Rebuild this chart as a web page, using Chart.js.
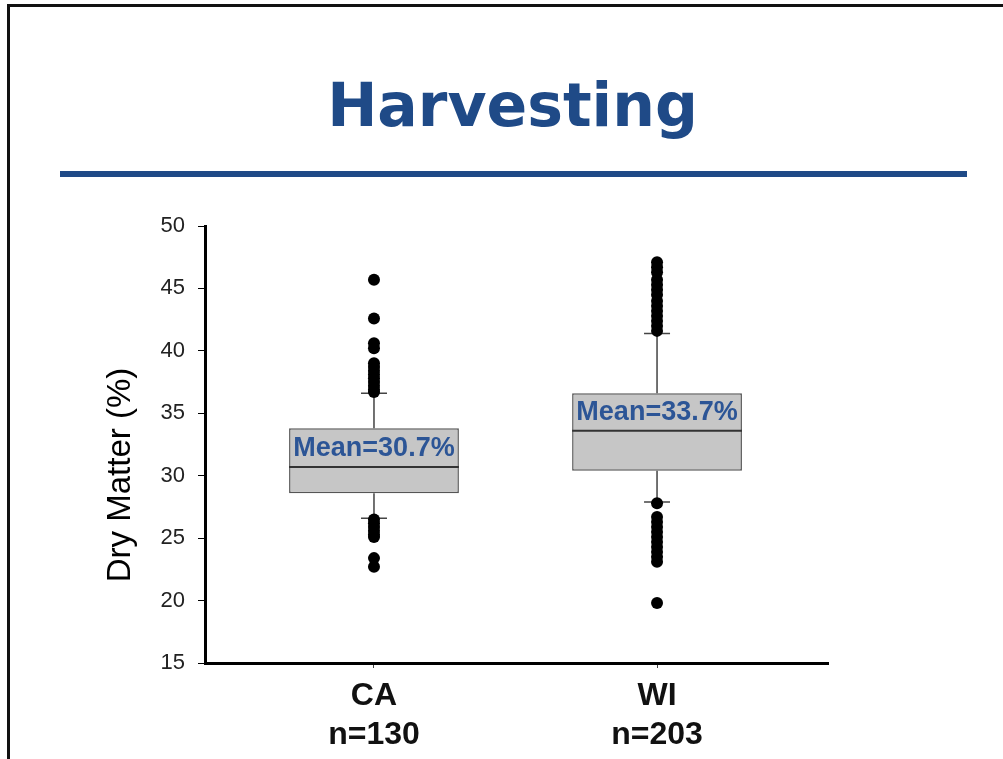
<!DOCTYPE html>
<html>
<head>
<meta charset="utf-8">
<script src="https://cdn.jsdelivr.net/npm/chart.js@4.4.0/dist/chart.umd.min.js"></script>
<style>
  html, body { margin: 0; padding: 0; background: #fff; }
  #page { position: relative; width: 1003px; height: 759px; overflow: hidden; }
  #frame { position: absolute; left: 7px; top: 4px; width: 1003px; height: 800px;
           border-left: 3px solid #111; border-top: 3px solid #111; }
  h1 { position: absolute; left: 11px; top: 70px; width: 1003px; margin: 0;
       text-align: center; font: bold 60px "DejaVu Sans"; line-height: 70px; color: #1f4a87; }
  #rule { position: absolute; left: 60px; top: 171px; width: 907px; height: 6px; background: #1f4a87; }
  #chart { position: absolute; left: 0; top: 0; }
</style>
</head>
<body>
<div id="page">
  <div id="frame"></div>
  <h1>Harvesting</h1>
  <div id="rule"></div>
  <canvas id="chart" width="1003" height="759"></canvas>
</div>
<script>
const categories = ["CA", "WI"];
const sampleSizes = [130, 203];
const q1 = [28.6, 30.4];
const medians = [30.7, 33.6];
const q3 = [33.8, 36.6];
const whiskerLow = [26.6, 27.9];
const whiskerHigh = [36.6, 41.4];
const means = [30.7, 33.7];
const outliersCA = [45.7, 42.6, 40.6, 40.2, 39.0, 38.7, 38.4, 38.1, 37.8, 37.5, 37.2, 36.9, 36.7,
                    26.5, 26.2, 25.9, 25.6, 25.3, 25.1, 23.4, 22.7];
const outliersWI = [47.1, 46.7, 46.3, 45.7, 45.3, 44.9, 44.5, 44.0, 43.6, 43.2, 42.8, 42.4, 42.0, 41.6,
                    27.8, 26.7, 26.3, 25.9, 25.5, 25.1, 24.7, 24.3, 23.9, 23.5, 23.1, 19.8];
const yMin = 15, yMax = 50, yStep = 5;
const yTitle = "Dry Matter (%)";

const outlierPoints = [
  ...outliersCA.map(v => ({ x: 1, y: v })),
  ...outliersWI.map(v => ({ x: 2, y: v }))
];

// whiskers, medians and mean labels, drawn right after the boxes
const boxExtras = {
  id: "boxExtras",
  afterDatasetDraw(chart, args) {
    if (args.index !== 0) return;
    const { ctx, scales: { x, y } } = chart;
    const bars = chart.getDatasetMeta(0).data;
    ctx.save();
    categories.forEach((c, i) => {
      const cx = x.getPixelForValue(i + 1);
      const half = bars[i].width / 2;
      const cap = 13;
      ctx.strokeStyle = "#444";
      ctx.lineWidth = 1.5;
      ctx.beginPath();
      ctx.moveTo(cx, y.getPixelForValue(q3[i]));
      ctx.lineTo(cx, y.getPixelForValue(whiskerHigh[i]));
      ctx.moveTo(cx, y.getPixelForValue(q1[i]));
      ctx.lineTo(cx, y.getPixelForValue(whiskerLow[i]));
      ctx.moveTo(cx - cap, y.getPixelForValue(whiskerHigh[i]));
      ctx.lineTo(cx + cap, y.getPixelForValue(whiskerHigh[i]));
      ctx.moveTo(cx - cap, y.getPixelForValue(whiskerLow[i]));
      ctx.lineTo(cx + cap, y.getPixelForValue(whiskerLow[i]));
      ctx.stroke();

      ctx.strokeStyle = "#333";
      ctx.lineWidth = 2;
      ctx.beginPath();
      ctx.moveTo(cx - half, y.getPixelForValue(medians[i]));
      ctx.lineTo(cx + half, y.getPixelForValue(medians[i]));
      ctx.stroke();

      const ly = (y.getPixelForValue(medians[i]) + y.getPixelForValue(q3[i])) / 2;
      ctx.fillStyle = "#2c5596";
      ctx.font = "bold 27px 'Liberation Sans', Arial, sans-serif";
      ctx.textAlign = "center";
      ctx.textBaseline = "middle";
      ctx.fillText("Mean=" + means[i].toFixed(1) + "%", cx, ly + 1);
    });
    ctx.restore();
  },
  afterDraw(chart) {
    const { ctx } = chart;
    ctx.save();
    ctx.translate(121, 475);
    ctx.rotate(-Math.PI / 2);
    ctx.fillStyle = "#000";
    ctx.font = "33px 'Liberation Sans', Arial, sans-serif";
    ctx.textAlign = "center";
    ctx.textBaseline = "middle";
    ctx.fillText(yTitle, 0, 0);
    ctx.restore();
  }
};

new Chart(document.getElementById("chart"), {
  type: "bar",
  data: {
    datasets: [
      {
        type: "bar",
        data: categories.map((c, i) => ({ x: i + 1, y: [q1[i], q3[i]] })),
        backgroundColor: "#c6c6c6",
        borderColor: "#555",
        borderWidth: 1.5,
        borderSkipped: false,
        barPercentage: 0.6,
        categoryPercentage: 1,
        order: 1
      },
      {
        type: "scatter",
        data: outlierPoints,
        backgroundColor: "#000",
        borderColor: "#000",
        pointRadius: 6,
        borderWidth: 0,
        order: 0
      }
    ]
  },
  options: {
    responsive: false,
    animation: false,
    layout: { padding: { top: 226, right: 175, left: 0, bottom: 0 } },
    plugins: { legend: { display: false }, tooltip: { enabled: false } },
    scales: {
      x: {
        type: "linear",
        offset: false,
        min: 0.403,
        max: 2.604,
        afterBuildTicks: scale => { scale.ticks = categories.map((c, i) => ({ value: i + 1 })); },
        afterFit: scale => { scale.height = 96; },
        grid: { offset: false, drawOnChartArea: false, tickLength: 5, color: "#444" },
        border: { color: "#000", width: 3 },
        ticks: {
          autoSkip: false,
          maxRotation: 0,
          padding: 9,
          color: "#111",
          font: { family: "'Liberation Sans', Arial, sans-serif", size: 32, weight: "bold", lineHeight: 1.22 },
          callback: (v) => [categories[v - 1], "n=" + sampleSizes[v - 1]]
        }
      },
      y: {
        min: yMin,
        max: yMax,
        afterFit: scale => { scale.width = 205; },
        grid: { drawOnChartArea: false, tickLength: 7, color: "#000" },
        border: { color: "#000", width: 3 },
        ticks: {
          stepSize: yStep,
          padding: 13,
          color: "#222",
          font: { family: "'Liberation Sans', Arial, sans-serif", size: 22 }
        }
      }
    }
  },
  plugins: [boxExtras]
});
</script>
</body>
</html>
